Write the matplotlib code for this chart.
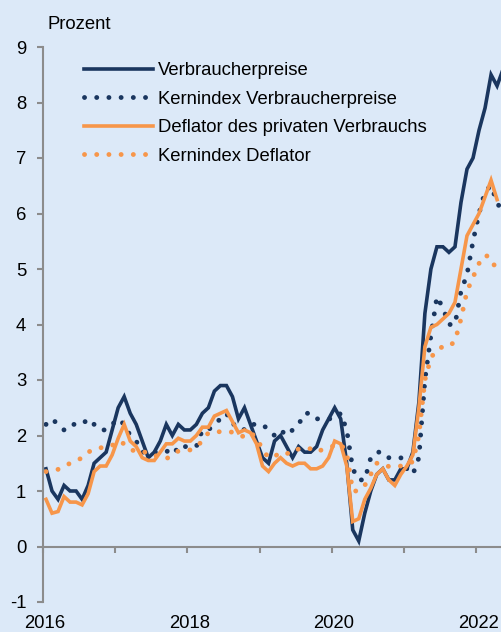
import matplotlib.pyplot as plt
import numpy as np

plt.rcParams['font.family'] = ['Liberation Sans', 'DejaVu Sans']
plt.rcParams['axes.unicode_minus'] = False

# Monatswerte Jan 2016 - Mai 2022, Veränderung gg. Vorjahr in %
verbraucherpreise = [
    1.4, 1.0, 0.85, 1.1, 1.0, 1.0, 0.85, 1.1, 1.5, 1.6, 1.7, 2.1,
    2.5, 2.7, 2.4, 2.2, 1.9, 1.6, 1.7, 1.9, 2.2, 2.0, 2.2, 2.1,
    2.1, 2.2, 2.4, 2.5, 2.8, 2.9, 2.9, 2.7, 2.3, 2.5, 2.2, 1.9,
    1.6, 1.5, 1.9, 2.0, 1.8, 1.6, 1.8, 1.7, 1.7, 1.8, 2.1, 2.3,
    2.5, 2.3, 1.5, 0.3, 0.1, 0.6, 1.0, 1.3, 1.4, 1.2, 1.2, 1.4,
    1.4, 1.7, 2.6, 4.2, 5.0, 5.4, 5.4, 5.3, 5.4, 6.2, 6.8, 7.0,
    7.5, 7.9, 8.5, 8.3, 8.6,
]
kern_vpi = [
    2.2, 2.3, 2.2, 2.1, 2.2, 2.2, 2.2, 2.3, 2.2, 2.1, 2.1, 2.2,
    2.3, 2.2, 2.0, 1.9, 1.7, 1.7, 1.7, 1.7, 1.7, 1.8, 1.7, 1.8,
    1.8, 1.8, 2.1, 2.1, 2.2, 2.3, 2.4, 2.2, 2.2, 2.1, 2.2, 2.2,
    2.2, 2.1, 2.0, 2.1, 2.0, 2.1, 2.2, 2.4, 2.4, 2.3, 2.3, 2.3,
    2.3, 2.4, 2.1, 1.4, 1.2, 1.2, 1.6, 1.7, 1.7, 1.6, 1.6, 1.6,
    1.4, 1.3, 1.6, 3.0, 3.8, 4.5, 4.3, 4.0, 4.0, 4.6, 4.9, 5.5,
    6.0, 6.4, 6.5, 6.2, 6.0,
]
deflator = [
    0.85, 0.6, 0.63, 0.9, 0.8, 0.8, 0.75, 0.95, 1.35, 1.45, 1.45, 1.65,
    1.95, 2.2, 1.9, 1.8, 1.6, 1.55, 1.55, 1.7, 1.85, 1.85, 1.95, 1.9,
    1.9, 2.0, 2.15, 2.15, 2.35, 2.4, 2.45, 2.25, 2.05, 2.1, 2.05, 1.85,
    1.45, 1.35, 1.5, 1.6, 1.5, 1.45, 1.5, 1.5, 1.4, 1.4, 1.45, 1.6,
    1.9, 1.85, 1.45, 0.45, 0.5, 0.85, 1.05, 1.3, 1.4, 1.2, 1.1, 1.3,
    1.45, 1.65, 2.5, 3.6, 3.95, 4.0, 4.1, 4.2, 4.4, 5.0, 5.6, 5.8,
    6.0, 6.3, 6.6, 6.25,
]
kern_deflator = [
    1.35, 1.37, 1.39, 1.44, 1.5, 1.54, 1.6, 1.7, 1.75, 1.78, 1.78, 1.82,
    1.9, 1.85, 1.76, 1.7, 1.7, 1.7, 1.65, 1.6, 1.58, 1.65, 1.72, 1.73,
    1.74, 1.8, 1.9, 2.05, 2.06, 2.07, 2.07, 2.06, 2.0, 1.98, 2.05, 1.96,
    1.75, 1.6, 1.62, 1.7, 1.68, 1.67, 1.76, 1.78, 1.76, 1.7, 1.75, 1.78,
    1.82, 1.85, 1.68, 1.0, 1.0, 1.1, 1.3, 1.5, 1.5, 1.44, 1.44, 1.45,
    1.47, 1.53, 2.0, 3.0, 3.4, 3.55, 3.6, 3.6, 3.7, 4.1, 4.6, 4.85,
    5.1, 5.25, 5.2, 4.95,
]
labels = ['Verbraucherpreise', 'Kernindex Verbraucherpreise',
          'Deflator des privaten Verbrauchs', 'Kernindex Deflator']
jahre = [2016, 2017, 2018, 2019, 2020, 2021, 2022]
jahr_labels = ['2016', '', '2018', '', '2020', '', '2022']


def monate(werte):
    # Monatsmitte
    return 2016 + (np.arange(len(werte)) + 0.5) / 12


bg = '#dce9f8'
navy = '#1a365f'
orange = '#f7964a'
grau = '#8c8c8c'
dots = (0, (0.01, 2.5))

fig = plt.figure(figsize=(5.02, 6.32), dpi=100, facecolor=bg)
ax = fig.add_axes([43 / 502, 1 - 602 / 632, 1 - 43 / 502, (602 - 47) / 632])
ax.set_facecolor(bg)

ax.plot(monate(verbraucherpreise), verbraucherpreise, color=navy, lw=2.6,
        solid_joinstyle='miter', label=labels[0])
ax.plot(monate(kern_vpi), kern_vpi, color=navy, lw=3.5, linestyle=dots,
        dash_capstyle='round', label=labels[1])
ax.plot(monate(deflator), deflator, color=orange, lw=2.6,
        solid_joinstyle='miter', label=labels[2])
ax.plot(monate(kern_deflator), kern_deflator, color=orange, lw=3.5,
        linestyle=dots, dash_capstyle='round', label=labels[3])

ax.set_xlim(2016, 2016 + (502 - 43) / 72.17)
ax.set_ylim(-1, 9)
ax.set_yticks(range(-1, 10))

for s in ['top', 'right']:
    ax.spines[s].set_visible(False)
ax.spines['left'].set_color(grau)
ax.spines['left'].set_linewidth(1.5)
ax.spines['bottom'].set_position(('data', 0))
ax.spines['bottom'].set_color(grau)
ax.spines['bottom'].set_linewidth(1.5)

ax.set_xticks(jahre)
ax.tick_params(axis='x', direction='out', length=4, width=1.5, color=grau,
               labelbottom=False)
ax.tick_params(axis='y', direction='out', length=4, width=1.5, color=grau,
               labelsize=13.3, pad=8)

# Jahreszahlen unten am Rand
sec = ax.secondary_xaxis(0)
sec.set_xticks([j + 0.03 for j in jahre], jahr_labels)
sec.spines['bottom'].set_visible(False)
sec.tick_params(length=0, labelsize=13.3, pad=9.5)

fig.text(48 / 502, 1 - 29 / 632, 'Prozent', fontsize=13.3, va='baseline')

leg = ax.legend(loc='upper left', bbox_to_anchor=(34 / 459, 1 - 8 / 555),
                frameon=False, fontsize=13.3, handlelength=3.7,
                handletextpad=0.3, labelspacing=0.62, borderaxespad=0)

fig.savefig('out.png', dpi=100, facecolor=bg)
